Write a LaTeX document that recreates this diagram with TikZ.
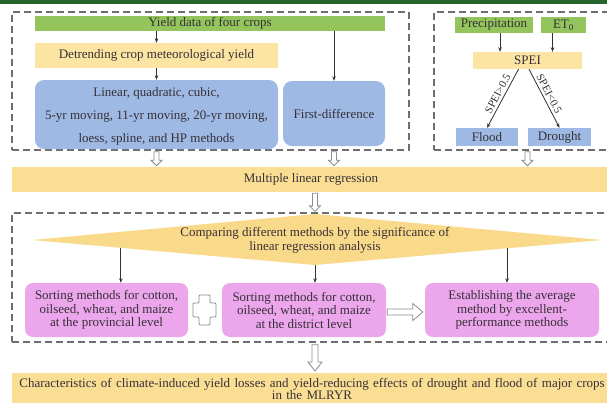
\documentclass[tikz,border=0pt]{standalone}
\usepackage{fontspec}
\setmainfont{Liberation Serif}
\usetikzlibrary{calc,arrows.meta}
\definecolor{topgreen}{RGB}{40,100,45}
\definecolor{barGreen}{RGB}{148,196,92}
\definecolor{lightYel}{RGB}{252,228,162}
\definecolor{barYel}{RGB}{250,222,148}
\definecolor{diaYel}{RGB}{249,217,138}
\definecolor{boxBlue}{RGB}{158,185,228}
\definecolor{boxPink}{RGB}{236,166,236}
\definecolor{txtc}{RGB}{55,48,55}
\definecolor{dashc}{RGB}{110,110,110}
\definecolor{hollowc}{RGB}{140,140,140}
\definecolor{connc}{RGB}{50,50,50}
% hollow arrow pointing down: start, end, half shaft, half head, head length
\newcommand{\hdown}[5]{%
 \draw[hollow] ($(#1)+(-#3,0)$) -- ($(#2)+(-#3,-#5)$) -- ($(#2)+(-#4,-#5)$) -- (#2)
   -- ($(#2)+(#4,-#5)$) -- ($(#2)+(#3,-#5)$) -- ($(#1)+(#3,0)$) -- cycle;}
% hollow arrow pointing right
\newcommand{\hright}[5]{%
 \draw[hollow] ($(#1)+(0,-#3)$) -- ($(#2)+(-#5,-#3)$) -- ($(#2)+(-#5,-#4)$) -- (#2)
   -- ($(#2)+(-#5,#4)$) -- ($(#2)+(-#5,#3)$) -- ($(#1)+(0,#3)$) -- cycle;}
\begin{document}
\begin{tikzpicture}[x=1pt,y=-1pt,
  txt/.style={text=txtc, font=\fontsize{13}{14.5}\selectfont, align=center, inner sep=0pt},
  gbar/.style={txt, fill=barGreen},
  ybar/.style={txt, fill=lightYel},
  bbox/.style={txt, fill=boxBlue},
  pbox/.style={txt, fill=boxPink, rounded corners=8pt},
  dbox/.style={draw=dashc, line width=1.3pt, dash pattern=on 7pt off 4pt, inner sep=0pt},
  conn/.style={draw=connc, line width=0.8pt, -{Stealth[length=4.5pt,width=3.5pt]}},
  lbl/.style={text=txtc, font=\fontsize{11}{12}\selectfont, inner sep=2.5pt},
  hollow/.style={draw=hollowc, fill=white, line width=0.8pt}
]
\useasboundingbox (0,0) rectangle (607,402);
\clip (0,0) rectangle (607,402);
\fill[white] (0,0) rectangle (607,402);
\fill[topgreen] (0,0) rectangle (607,4);

% dashed groups
\node[dbox, minimum width=397pt, minimum height=138pt] (boxA) at (210.5,81) {};
\node[dbox, minimum width=178pt, minimum height=138pt] (boxB) at (523,81) {};
\node[dbox, minimum width=600pt, minimum height=129pt] (boxC) at (312,277.5) {};

% left group
\node[gbar, minimum width=350pt, minimum height=15pt] (yield) at (210,23.5) {Yield data of four crops};
\node[ybar, minimum width=243pt, minimum height=25pt] (detr) at (156.5,55.5) {Detrending crop meteorological yield};
\node[bbox, rounded corners=9pt, minimum width=243pt, minimum height=65pt] (methods) at (156.5,114.5)
  {\raisebox{-4pt}{\fontsize{13}{23}\selectfont\begin{tabular}{@{}c@{}}Linear, quadratic, cubic,\\5-yr moving, 11-yr moving, 20-yr moving,\\loess, spline, and HP methods\end{tabular}}};
\node[bbox, rounded corners=9pt, minimum width=102pt, minimum height=65pt] (firstdiff) at (334,113.5) {First-difference};

\draw[conn] (yield.south -| detr.north) -- (detr.north);
\draw[conn] (detr.south) -- (methods.north);
\draw[conn] (yield.south -| firstdiff.north) -- (firstdiff.north);

% right group
\node[gbar, minimum width=78pt, minimum height=16pt] (precip) at (494,25) {Precipitation};
\node[gbar, minimum width=45pt, minimum height=16pt] (et0) at (563.5,25) {ET\textsubscript{0}};
\node[ybar, minimum width=109pt, minimum height=17pt] (spei) at (527.5,60.5) {SPEI};
\node[bbox, minimum width=62pt, minimum height=18pt] (flood) at (487,137) {Flood};
\node[bbox, minimum width=63pt, minimum height=18pt] (drought) at (559.5,137) {Drought};

\draw[conn] ([xshift=6pt]precip.south) -- ([xshift=6pt]precip.south |- spei.north);
\draw[conn] ([xshift=-11pt]et0.south) -- ([xshift=-11pt]et0.south |- spei.north);
\draw[conn] ([xshift=-9pt]spei.south) -- (flood.north) node[pos=0.47, sloped, above, lbl] {SPEI>0.5};
\draw[conn] ([xshift=1.5pt]spei.south) -- (drought.north) node[pos=0.47, sloped, above, lbl] {SPEI<0.5};

% multiple linear regression
\node[txt, fill=barYel, minimum width=598pt, minimum height=25pt] (mlr) at (311,179.5) {Multiple linear regression};

% comparing diamond
\coordinate (dl) at (32,240);
\coordinate (dt) at (315,214);
\coordinate (dr) at (602,240);
\coordinate (db) at (315,265);
\fill[diaYel] (dl) -- (dt) -- (dr) -- (db) -- cycle;
\node[txt] (cmp) at (315,240.5) {Comparing different methods by the significance of\\linear regression analysis};

% pink boxes
\node[pbox, font=\fontsize{13}{13.5}\selectfont, minimum width=163pt, minimum height=54pt] (pink1) at (106.5,310)
  {Sorting methods for cotton,\\oilseed, wheat, and maize\\at the provincial level};
\node[pbox, font=\fontsize{13}{13.5}\selectfont, minimum width=164pt, minimum height=54pt] (pink2) at (304,310)
  {Sorting methods for cotton,\\oilseed, wheat, and maize\\at the district level};
\node[pbox, font=\fontsize{13}{13.5}\selectfont, minimum width=174pt, minimum height=54pt] (pink3) at (512,310)
  {Establishing the average\\method by excellent-\\performance methods};

\coordinate (a1) at ($(dl)!0.314!(db)$);
\coordinate (a3) at ($(db)!0.669!(dr)$);
\draw[conn] (a1) -- (a1 |- pink1.north);
\draw[conn] (db) -- (db |- pink2.north);
\draw[conn] (a3) -- (a3 |- pink3.north);

% plus sign
\coordinate (plus) at (204.5,310);
\draw[hollow, rounded corners=1pt, shift={(plus)}]
  (-5.5,-15) -- (5.5,-15) -- (5.5,-7) -- (11.5,-7) -- (11.5,7) -- (5.5,7) -- (5.5,15)
  -- (-5.5,15) -- (-5.5,7) -- (-11.5,7) -- (-11.5,-7) -- (-5.5,-7) -- cycle;

% bottom bar
\fill[barYel] (12,373) rectangle (612,410);
\node[txt, font=\fontsize{13}{12.5}\selectfont, text width=596pt] (bottom) at (312,389)
  {Characteristics of climate-induced yield losses and yield-reducing effects of drought and flood of major crops\\in the MLRYR};
\coordinate (btop) at (312,373);

% hollow connectors
\coordinate (h1a) at ($(boxA.south -| methods.south)+(0,1)$);
\coordinate (h1b) at ($(mlr.north -| methods.south)+(0,-1)$);
\coordinate (h2a) at ($(boxA.south -| firstdiff.south)+(0,1)$);
\coordinate (h2b) at ($(mlr.north -| firstdiff.south)+(0,-1)$);
\coordinate (h3a) at ($(boxB.south -| spei.south)+(0,1)$);
\coordinate (h3b) at ($(mlr.north -| spei.south)+(0,-1)$);
\coordinate (h4a) at ($(mlr.south -| cmp.south)+(0,1)$);
\coordinate (h4b) at ($(boxC.north -| cmp.south)+(0,-1)$);
\coordinate (h5a) at ($(boxC.south -| cmp.south)+(0,2)$);
\coordinate (h5b) at ($(btop -| cmp.south)+(0,-2)$);
\coordinate (h6a) at ($(pink2.east)+(1,2)$);
\coordinate (h6b) at ($(pink3.west)+(-2,2)$);
\hdown{h1a}{h1b}{2.5}{5.5}{5.5}
\hdown{h2a}{h2b}{2.5}{5.5}{5.5}
\hdown{h3a}{h3b}{2.5}{5.5}{5.5}
\hdown{h4a}{h4b}{2.5}{5.5}{5.5}
\hdown{h5a}{h5b}{3}{7}{9}
\hright{h6a}{h6b}{3}{8.5}{10}
\end{tikzpicture}
\end{document}
